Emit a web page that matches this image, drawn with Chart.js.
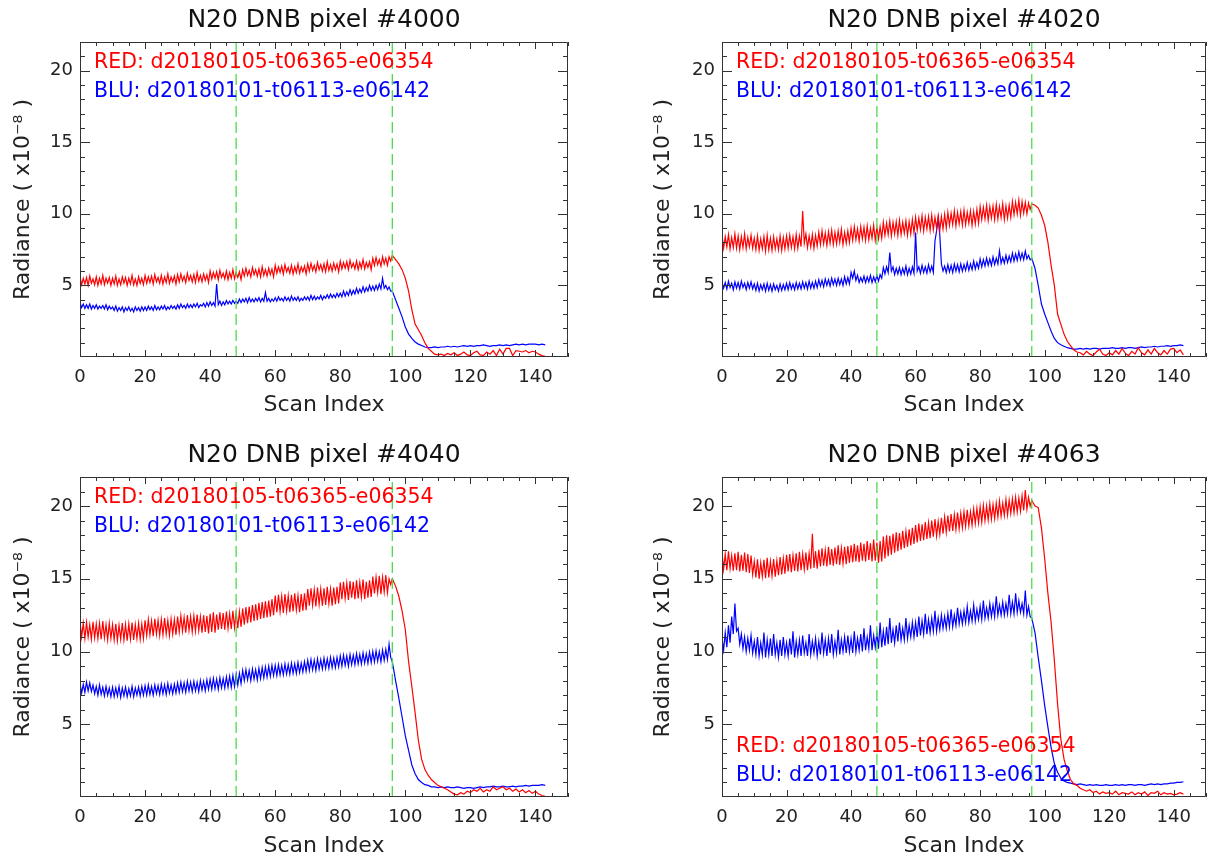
<!DOCTYPE html>
<html>
<head>
<meta charset="utf-8">
<script src="https://cdn.jsdelivr.net/npm/chart.js@4.4.1/dist/chart.umd.min.js"></script>
<style>
  html, body { margin: 0; padding: 0; background: #fff; overflow: hidden; }
  body { width: 1208px; height: 854px; position: relative; }
  canvas { position: absolute; }
</style>
</head>
<body>
<canvas id="c4000" width="604" height="440" style="left:0;top:0"></canvas>
<canvas id="c4020" width="568" height="440" style="left:640px;top:0"></canvas>
<canvas id="c4040" width="604" height="440" style="left:0;top:427px"></canvas>
<canvas id="c4063" width="568" height="440" style="left:640px;top:427px"></canvas>
<script>
// axis ticks and marker lines
const xTicks = [0, 20, 40, 60, 80, 100, 120, 140];
const yTicks = [5, 10, 15, 20];
const markers = [48, 96];

const redLabel = 'RED: d20180105-t06365-e06354';
const bluLabel = 'BLU: d20180101-t06113-e06142';

// radiance (x1e-8) at scan index 0..143
// (before the drop these follow the top of the noisy band)
const red4000 = [
  5.6,5.5,5.55,5.65,5.45,5.6,5.5,5.7,5.5,5.55,
  5.5,5.65,5.45,5.6,5.55,5.5,5.7,5.45,5.6,5.5,
  5.7,5.6,5.65,5.75,5.55,5.7,5.6,5.8,5.6,5.65,
  5.75,5.8,5.65,5.85,5.7,5.75,5.9,5.7,5.8,5.75,
  6.0,5.9,5.95,6.05,5.85,6.0,5.9,6.1,5.9,5.95,
  6.1,6.2,6.05,6.25,6.1,6.15,6.3,6.1,6.2,6.15,
  6.4,6.3,6.35,6.45,6.25,6.4,6.3,6.5,6.3,6.35,
  6.5,6.55,6.4,6.6,6.45,6.5,6.65,6.45,6.55,6.5,
  6.7,6.6,6.65,6.75,6.55,6.7,6.6,6.8,6.6,6.65,
  6.9,6.95,6.8,7.0,6.9,7.0,7.1,6.8,6.5,6.1,
  5.5,4.6,3.3,2.3,1.9,1.5,1.0,0.6,0.4,0.2,
  0.15,0.2,0.1,0.25,0.15,0.3,0.1,0.2,0.35,0.15,
  0.1,0.3,0.4,0.15,0.1,0.35,0.2,0.45,0.1,0.55,
  0.2,0.6,0.6,0.1,0.45,0.4,0.35,0.45,0.3,0.4,
  0.35,0.2,0.1,0.05
];
// half-scan samples (index + 0.5) before the drop: bottom of the band
const red4000Mid = [
  5.05,5.1,5.0,5.15,5.05,5.0,5.1,5.05,5.15,5.0,
  5.1,5.0,5.05,5.15,5.0,5.1,5.05,5.0,5.15,5.05,
  5.15,5.2,5.1,5.25,5.15,5.1,5.2,5.15,5.25,5.1,
  5.25,5.3,5.2,5.35,5.25,5.2,5.3,5.25,5.35,5.2,
  5.45,5.5,5.4,5.55,5.45,5.4,5.5,5.45,5.55,5.4,
  5.65,5.7,5.6,5.75,5.65,5.6,5.7,5.65,5.75,5.6,
  5.85,5.9,5.8,5.95,5.85,5.8,5.9,5.85,5.95,5.8,
  6.0,6.05,5.95,6.1,6.0,5.95,6.05,6.0,6.1,5.95,
  6.15,6.2,6.1,6.25,6.15,6.1,6.2,6.15,6.25,6.1,
  6.4,6.45,6.35,6.5,6.4,6.7
];
const blu4000 = [
  3.8,3.7,3.65,3.7,3.6,3.65,3.55,3.6,3.65,3.55,
  3.5,3.55,3.45,3.5,3.45,3.5,3.4,3.5,3.45,3.5,
  3.5,3.55,3.5,3.6,3.5,3.55,3.6,3.5,3.6,3.55,
  3.65,3.7,3.6,3.7,3.65,3.7,3.75,3.65,3.75,3.8,
  3.85,3.8,5.1,3.9,3.85,3.95,3.9,3.95,3.9,4.05,
  4.05,4.1,4.15,4.05,4.1,4.15,4.1,4.5,4.1,4.05,
  4.15,4.2,4.1,4.2,4.15,4.25,4.15,4.2,4.1,4.2,
  4.2,4.3,4.25,4.2,4.3,4.25,4.35,4.4,4.35,4.45,
  4.45,4.6,4.55,4.7,4.65,4.8,4.75,4.9,4.85,5.0,
  4.95,5.0,5.1,5.5,5.0,4.9,4.6,4.0,3.4,2.8,
  2.1,1.6,1.3,1.05,0.9,0.8,0.7,0.65,0.65,0.7,
  0.65,0.7,0.7,0.75,0.7,0.75,0.7,0.75,0.8,0.75,
  0.8,0.75,0.8,0.8,0.85,0.8,0.75,0.8,0.8,0.85,
  0.8,0.85,0.8,0.85,0.9,0.85,0.9,0.85,0.9,0.9,
  0.9,0.85,0.9,0.85
];
const blu4000Mid = [
  3.45,3.4,3.4,3.35,3.4,3.35,3.4,3.35,3.3,3.35,
  3.25,3.2,3.25,3.15,3.25,3.2,3.15,3.25,3.2,3.25,
  3.25,3.3,3.25,3.3,3.3,3.35,3.3,3.35,3.4,3.35,
  3.4,3.45,3.4,3.45,3.45,3.5,3.45,3.55,3.5,3.55,
  3.6,3.55,3.65,3.6,3.65,3.7,3.7,3.75,3.75,3.8,
  3.85,3.8,3.85,3.85,3.9,3.85,3.9,3.9,3.85,3.9,
  3.9,3.95,3.9,3.95,3.9,3.95,3.95,3.9,3.95,4.0,
  3.95,4.0,4.0,4.05,4.0,4.1,4.1,4.15,4.15,4.2,
  4.2,4.25,4.3,4.35,4.4,4.45,4.5,4.55,4.6,4.65,
  4.65,4.7,4.75,4.8,4.7,4.6
];
const red4020 = [
  8.5,8.4,8.55,8.35,8.6,8.45,8.4,8.6,8.35,8.5,
  8.3,8.45,8.25,8.4,8.5,8.3,8.4,8.25,8.45,8.35,
  8.45,8.5,8.4,8.55,8.45,10.2,8.6,8.45,8.55,8.5,
  8.7,8.8,8.65,8.75,8.85,8.7,8.8,8.9,8.7,8.8,
  9.0,9.1,8.95,9.1,9.05,9.15,9.0,9.2,9.05,9.1,
  9.4,9.35,9.5,9.4,9.45,9.55,9.4,9.5,9.45,9.6,
  9.75,9.7,9.85,9.75,9.8,9.9,9.75,9.85,9.8,9.95,
  10.1,10.05,10.2,10.1,10.15,10.25,10.1,10.2,10.15,10.3,
  10.5,10.45,10.6,10.5,10.55,10.65,10.5,10.7,10.55,10.6,
  10.85,10.8,10.95,10.85,10.8,10.75,10.7,10.6,10.4,9.9,
  9.2,8.0,6.4,5.0,3.0,2.3,1.6,1.1,0.8,0.5,
  0.35,0.3,0.15,0.4,0.2,0.1,0.35,0.55,0.2,0.1,
  0.3,0.15,0.45,0.2,0.6,0.25,0.1,0.4,0.2,0.65,
  0.3,0.15,0.5,0.2,0.6,0.3,0.15,0.45,0.2,0.55,
  0.6,0.3,0.5,0.15
];
const red4020Mid = [
  7.6,7.7,7.55,7.65,7.6,7.5,7.65,7.55,7.7,7.6,
  7.5,7.45,7.55,7.4,7.5,7.45,7.55,7.5,7.45,7.55,
  7.6,7.65,7.55,7.6,7.7,7.95,7.65,7.7,7.6,7.75,
  7.85,7.9,7.8,7.95,7.85,7.9,8.0,7.85,7.95,8.0,
  8.15,8.2,8.1,8.25,8.15,8.2,8.3,8.15,8.25,8.3,
  8.5,8.55,8.45,8.6,8.5,8.55,8.65,8.5,8.6,8.65,
  8.85,8.9,8.8,8.95,8.85,8.9,9.0,8.85,8.95,9.0,
  9.2,9.25,9.15,9.3,9.2,9.25,9.35,9.2,9.3,9.35,
  9.6,9.65,9.55,9.7,9.6,9.65,9.75,9.6,9.7,9.75,
  9.95,10.0,9.9,10.05,10.0,10.3
];
const blu4020 = [
  5.25,5.2,5.3,5.15,5.25,5.2,5.3,5.15,5.2,5.25,
  5.1,5.15,5.05,5.1,5.15,5.05,5.1,5.0,5.1,5.05,
  5.15,5.2,5.1,5.2,5.15,5.25,5.2,5.3,5.2,5.3,
  5.4,5.35,5.45,5.4,5.5,5.45,5.5,5.45,5.6,5.55,
  5.9,6.0,5.7,5.55,5.65,5.6,5.7,5.6,5.7,5.75,
  6.25,6.3,7.3,6.3,6.2,6.25,6.2,6.35,6.2,6.3,
  8.7,6.3,6.4,6.3,6.45,6.35,8.1,9.7,6.5,6.35,
  6.45,6.4,6.5,6.45,6.5,6.45,6.6,6.5,6.7,6.6,
  6.85,6.8,6.9,6.85,7.0,6.9,7.4,6.95,7.1,7.05,
  7.25,7.2,7.35,7.25,7.4,7.1,6.9,6.2,5.0,3.7,
  3.0,2.4,1.8,1.3,1.0,0.85,0.75,0.65,0.6,0.55,
  0.55,0.6,0.55,0.6,0.55,0.6,0.6,0.55,0.6,0.6,
  0.6,0.65,0.6,0.6,0.65,0.6,0.65,0.65,0.6,0.65,
  0.7,0.65,0.7,0.7,0.75,0.7,0.75,0.75,0.8,0.75,
  0.8,0.8,0.85,0.8
];
const blu4020Mid = [
  4.8,4.75,4.85,4.7,4.8,4.75,4.85,4.7,4.8,4.75,
  4.65,4.6,4.7,4.6,4.65,4.6,4.7,4.6,4.65,4.7,
  4.7,4.75,4.7,4.75,4.75,4.8,4.75,4.8,4.8,4.85,
  4.95,4.9,5.0,4.95,5.05,5.0,5.05,5.0,5.1,5.1,
  5.5,5.35,5.2,5.25,5.2,5.25,5.2,5.25,5.3,5.5,
  5.8,5.9,6.0,5.75,5.8,5.75,5.8,5.75,5.8,5.85,
  6.0,5.85,5.9,5.85,5.95,5.9,8.8,8.5,6.0,5.9,
  5.95,5.9,6.0,5.95,6.0,6.05,6.05,6.1,6.15,6.2,
  6.3,6.35,6.4,6.4,6.45,6.5,6.55,6.55,6.6,6.65,
  6.7,6.75,6.8,6.8,6.85,6.8
];
const red4040 = [
  12.1,11.95,12.0,11.85,12.05,11.9,11.95,12.1,11.85,11.95,
  11.85,11.9,11.8,11.95,11.85,11.9,12.0,11.85,11.95,11.9,
  12.15,12.2,12.1,12.25,12.15,12.2,12.3,12.15,12.25,12.2,
  12.4,12.45,12.35,12.5,12.4,12.45,12.55,12.4,12.5,12.45,
  12.6,12.7,12.55,12.7,12.65,12.75,12.6,12.8,12.7,12.75,
  12.95,13.05,13.1,13.2,13.25,13.35,13.4,13.45,13.5,13.6,
  13.85,13.9,13.8,13.95,13.85,13.9,14.0,13.85,13.95,14.0,
  14.3,14.35,14.25,14.4,14.3,14.35,14.45,14.3,14.4,14.45,
  14.75,14.8,14.7,14.85,14.8,14.9,14.75,14.95,14.8,14.9,
  15.15,15.1,15.2,15.1,15.25,15.0,15.0,14.5,13.8,12.8,
  11.5,9.3,7.6,5.8,3.9,2.6,1.9,1.5,1.2,1.0,
  0.8,0.7,0.6,0.5,0.35,0.2,0.15,0.3,0.2,0.4,
  0.3,0.5,0.4,0.6,0.35,0.5,0.4,0.7,0.5,0.6,
  0.7,0.5,0.6,0.4,0.55,0.35,0.5,0.3,0.45,0.25,
  0.4,0.2,0.1,0.05
];
const red4040Mid = [
  11.0,10.9,11.0,10.85,10.95,10.9,10.85,10.95,10.8,10.9,
  10.8,10.75,10.85,10.8,10.75,10.85,10.8,10.9,10.85,10.9,
  11.1,11.15,11.05,11.2,11.1,11.15,11.2,11.1,11.2,11.15,
  11.35,11.4,11.3,11.45,11.35,11.4,11.45,11.3,11.35,11.25,
  11.35,11.3,11.5,11.55,11.5,11.6,11.55,11.65,11.6,11.7,
  11.85,11.95,12.0,12.1,12.15,12.25,12.3,12.35,12.4,12.5,
  12.7,12.75,12.65,12.8,12.7,12.75,12.85,12.7,12.8,12.85,
  13.15,13.2,13.1,13.25,13.15,13.2,13.3,13.15,13.25,13.3,
  13.6,13.65,13.55,13.7,13.6,13.65,13.75,13.6,13.7,13.75,
  14.0,14.05,13.95,14.1,14.05,14.6
];
const blu4040 = [
  7.8,7.75,7.9,7.85,7.7,7.6,7.7,7.55,7.6,7.5,
  7.55,7.5,7.6,7.5,7.55,7.45,7.6,7.5,7.55,7.6,
  7.65,7.7,7.6,7.7,7.65,7.75,7.7,7.8,7.7,7.75,
  7.85,7.9,7.85,7.95,7.9,7.95,7.9,8.0,7.95,8.05,
  8.1,8.15,8.1,8.2,8.15,8.25,8.3,8.35,8.45,8.5,
  8.7,8.75,8.7,8.8,8.75,8.85,8.9,8.95,9.0,9.05,
  9.05,9.1,9.05,9.15,9.1,9.2,9.15,9.25,9.2,9.3,
  9.4,9.45,9.4,9.5,9.45,9.55,9.5,9.6,9.55,9.6,
  9.7,9.75,9.7,9.8,9.75,9.85,9.8,9.9,9.85,9.95,
  10.0,10.05,10.0,10.1,10.15,10.5,9.3,8.0,6.8,5.5,
  4.2,3.2,2.2,1.6,1.2,1.0,0.85,0.8,0.7,0.7,
  0.65,0.7,0.65,0.7,0.65,0.65,0.7,0.65,0.6,0.65,
  0.65,0.6,0.65,0.7,0.65,0.7,0.7,0.75,0.7,0.7,
  0.75,0.7,0.7,0.75,0.7,0.75,0.75,0.8,0.75,0.8,
  0.8,0.8,0.85,0.8
];
const blu4040Mid = [
  7.15,7.2,7.3,7.25,7.1,7.0,7.05,6.95,7.0,6.9,
  6.9,6.95,6.85,6.95,6.9,6.95,6.9,7.0,6.95,7.0,
  7.0,7.05,7.0,7.1,7.05,7.1,7.05,7.15,7.1,7.15,
  7.2,7.25,7.2,7.3,7.25,7.3,7.25,7.35,7.3,7.4,
  7.4,7.45,7.4,7.5,7.5,7.55,7.55,7.6,7.7,7.8,
  8.0,8.05,8.0,8.1,8.05,8.15,8.2,8.25,8.3,8.35,
  8.35,8.4,8.4,8.45,8.45,8.5,8.5,8.55,8.6,8.65,
  8.7,8.75,8.7,8.8,8.8,8.85,8.85,8.9,8.9,8.95,
  9.0,9.05,9.0,9.1,9.1,9.15,9.15,9.2,9.2,9.25,
  9.3,9.35,9.3,9.4,9.45,9.6
];
const red4063 = [
  16.8,16.7,16.9,16.6,16.75,16.85,16.65,16.8,16.7,16.6,
  16.2,16.35,16.1,16.3,16.45,16.2,16.35,16.25,16.5,16.4,
  16.65,16.7,16.6,16.75,16.85,16.7,16.8,16.75,18.1,16.9,
  17.0,17.1,16.95,17.2,17.05,17.15,17.3,17.1,17.2,17.25,
  17.3,17.4,17.3,17.5,17.4,17.6,17.45,17.7,17.5,17.6,
  17.9,18.0,17.95,18.1,18.2,18.15,18.3,18.25,18.4,18.5,
  18.7,18.8,18.75,18.9,18.85,19.0,19.1,18.95,19.2,19.25,
  19.35,19.45,19.4,19.55,19.5,19.6,19.75,19.6,19.8,19.85,
  19.95,20.05,20.0,20.15,20.1,20.2,20.35,20.2,20.45,20.4,
  20.5,20.6,20.55,20.7,21.1,20.6,20.4,20.0,19.9,18.5,
  16.4,14.0,12.0,9.4,6.4,4.0,2.6,1.8,1.2,0.9,
  0.8,0.6,0.5,0.4,0.5,0.3,0.4,0.2,0.35,0.25,
  0.3,0.2,0.4,0.15,0.3,0.25,0.2,0.35,0.15,0.3,
  0.2,0.35,0.1,0.3,0.25,0.4,0.15,0.3,0.2,0.25,
  0.15,0.2,0.3,0.2
];
const red4063Mid = [
  15.65,15.6,15.7,15.55,15.6,15.5,15.55,15.45,15.4,15.3,
  15.1,15.0,15.15,15.05,15.1,15.2,15.15,15.25,15.3,15.35,
  15.5,15.45,15.55,15.5,15.6,15.65,15.6,15.7,15.75,15.7,
  15.85,15.9,15.85,15.95,15.9,16.0,15.95,16.05,16.0,16.1,
  16.15,16.2,16.15,16.25,16.2,16.3,16.2,16.25,16.1,16.2,
  16.4,16.55,16.65,16.8,16.9,17.0,17.1,17.2,17.3,17.4,
  17.5,17.6,17.65,17.75,17.8,17.9,17.95,18.05,18.1,18.2,
  18.25,18.3,18.4,18.45,18.5,18.6,18.65,18.7,18.8,18.85,
  18.9,19.0,19.05,19.1,19.15,19.25,19.3,19.35,19.4,19.5,
  19.55,19.6,19.65,19.7,19.8,20.0
];
const blu4063 = [
  10.9,11.3,11.8,12.4,13.3,11.6,11.2,11.0,10.9,11.1,
  10.7,11.0,10.6,11.3,10.8,10.9,11.2,10.6,10.8,11.0,
  10.6,10.9,11.4,10.7,10.8,11.1,10.6,11.2,10.7,10.9,
  10.7,11.3,10.8,10.9,11.2,10.7,11.5,10.8,11.0,11.1,
  10.9,11.4,10.9,11.2,11.6,11.0,11.8,11.1,11.3,12.0,
  11.4,11.7,12.3,11.5,11.8,12.0,11.6,12.3,11.8,12.0,
  12.0,12.4,12.1,12.6,12.2,12.3,12.8,12.3,12.5,12.4,
  12.6,12.9,12.5,13.0,12.7,12.8,13.1,12.8,13.2,12.9,
  13.1,13.5,13.0,13.3,13.2,13.8,13.2,13.4,13.3,13.9,
  13.4,14.0,13.5,13.3,14.2,13.1,12.3,11.3,9.6,8.0,
  6.3,4.8,3.4,2.3,1.7,1.3,1.1,1.0,0.95,0.9,
  0.85,0.9,0.85,0.8,0.85,0.8,0.85,0.8,0.8,0.85,
  0.8,0.8,0.85,0.8,0.85,0.8,0.85,0.85,0.8,0.85,
  0.85,0.8,0.85,0.9,0.85,0.9,0.85,0.9,0.9,0.95,
  0.95,1.0,1.0,1.05
];
const blu4063Mid = [
  10.1,10.3,10.6,11.2,11.4,10.5,10.2,10.0,10.1,9.9,
  9.8,9.7,9.8,9.6,9.8,9.7,9.8,9.6,9.7,9.8,
  9.7,9.8,9.6,9.8,9.7,9.9,9.7,9.8,9.9,9.7,
  9.8,9.9,9.7,9.9,9.8,9.9,9.8,10.0,9.9,10.0,
  9.9,10.0,10.1,10.0,10.1,10.2,10.1,10.3,10.2,10.3,
  10.4,10.5,10.6,10.6,10.7,10.8,10.8,10.9,11.0,11.0,
  11.0,11.1,11.2,11.2,11.3,11.4,11.4,11.5,11.6,11.6,
  11.7,11.7,11.8,11.9,11.9,12.0,12.0,12.1,12.1,12.2,
  12.2,12.3,12.3,12.4,12.4,12.5,12.5,12.5,12.6,12.6,
  12.6,12.7,12.7,12.6,12.5,12.4
];

Chart.defaults.font.family = '"DejaVu Sans", sans-serif';
Chart.defaults.color = '#222';

const FONT = '"DejaVu Sans", sans-serif';

// IDL style frame: box all round, ticks pointing inwards
const frameTicks = {
  id: 'frameTicks',
  afterDatasetsDraw(chart) {
    const { ctx, chartArea: a, scales: { x, y } } = chart;
    ctx.save();
    ctx.strokeStyle = '#333';
    ctx.lineWidth = 1;
    ctx.beginPath();
    ctx.rect(Math.round(a.left) + 0.5, Math.round(a.top) + 0.5,
             Math.round(a.right - a.left) - 1, Math.round(a.bottom - a.top) - 1);
    for (let v = 0; v <= 150; v += 5) {
      const px = Math.round(x.getPixelForValue(v)) + 0.5;
      const len = xTicks.includes(v) ? 7 : 4;
      ctx.moveTo(px, a.bottom); ctx.lineTo(px, a.bottom - len);
      ctx.moveTo(px, a.top); ctx.lineTo(px, a.top + len);
    }
    for (let v = 1; v < 22; v++) {
      const py = Math.round(y.getPixelForValue(v)) + 0.5;
      const len = yTicks.includes(v) ? 10 : 5;
      ctx.moveTo(a.left, py); ctx.lineTo(a.left + len, py);
      ctx.moveTo(a.right, py); ctx.lineTo(a.right - len, py);
    }
    ctx.stroke();
    ctx.restore();
  }
};

// the two file names written inside the plot
const runLabels = {
  id: 'runLabels',
  afterDraw(chart, args, opts) {
    const { ctx, chartArea: a } = chart;
    ctx.save();
    ctx.font = '20.5px ' + FONT;
    ctx.textBaseline = 'middle';
    ctx.textAlign = 'left';
    const yRed = opts.bottom ? a.bottom - 50 : a.top + 21;
    ctx.fillStyle = '#ff0000';
    ctx.fillText(redLabel, a.left + 14, yRed);
    ctx.fillStyle = '#0000ff';
    ctx.fillText(bluLabel, a.left + 14, yRed + 29);
    ctx.restore();
  }
};

// whole-scan values plus the half-scan ones, in x order
function toPoints(main, mid) {
  const pts = [];
  main.forEach((v, i) => {
    pts.push({ x: i, y: v });
    if (i < mid.length) pts.push({ x: i + 0.5, y: mid[i] });
  });
  return pts;
}

function drawPanel(p) {
  const canvas = document.getElementById(p.id);
  const W = canvas.width, H = canvas.height;
  const xH = p.xTitleY + 13.2 - p.area.b;

  const datasets = markers.map(m => ({
    data: [{ x: m, y: 0 }, { x: m, y: 22 }],
    borderColor: '#4cdc4c',
    borderWidth: 1.3,
    borderDash: [11, 5],
    pointRadius: 0
  }));
  datasets.push({
    data: toPoints(p.red, p.redMid), borderColor: '#ff0000', borderWidth: 1.2, pointRadius: 0
  });
  datasets.push({
    data: toPoints(p.blu, p.bluMid), borderColor: '#0000ff', borderWidth: 1.2, pointRadius: 0
  });

  new Chart(canvas, {
    type: 'line',
    data: { datasets },
    options: {
      responsive: false,
      animation: false,
      devicePixelRatio: 1,
      events: [],
      layout: { padding: { left: 0, top: 0, right: W - p.area.r, bottom: H - p.area.b - xH } },
      plugins: {
        legend: { display: false },
        tooltip: { enabled: false },
        title: {
          display: true,
          text: p.title,
          fullSize: false,
          color: '#111',
          font: { size: 25, weight: 'normal', lineHeight: 1.2 },
          padding: { top: p.titleY - 15, bottom: p.area.t - p.titleY - 15 }
        },
        runLabels: { bottom: p.labelsBottom }
      },
      scales: {
        x: {
          type: 'linear', min: 0, max: 150,
          grid: { display: false, drawTicks: false },
          border: { display: false },
          afterBuildTicks: s => { s.ticks = xTicks.map(v => ({ value: v })); },
          afterFit: s => { s.height = xH; },
          ticks: { font: { size: 18 }, padding: 10, maxRotation: 0, color: '#222' },
          title: { display: true, text: 'Scan Index', font: { size: 22 }, padding: 0, color: '#222' }
        },
        y: {
          type: 'linear', min: 0, max: 22,
          grid: { display: false, drawTicks: false },
          border: { display: false },
          afterBuildTicks: s => { s.ticks = yTicks.map(v => ({ value: v })); },
          afterFit: s => { s.width = p.area.l; },
          ticks: { font: { size: 18 }, padding: 7, color: '#222' },
          title: { display: true, text: 'Radiance ( x10\u207B\u2078 )', font: { size: 22 }, padding: { top: 10, bottom: 0 }, color: '#222' }
        }
      }
    },
    plugins: [frameTicks, runLabels]
  });
}

drawPanel({ id: 'c4000', title: 'N20 DNB pixel #4000',
  red: red4000, redMid: red4000Mid, blu: blu4000, bluMid: blu4000Mid,
  area: { l: 80, t: 42, r: 568, b: 357 }, titleY: 20, xTitleY: 405, labelsBottom: false });
drawPanel({ id: 'c4020', title: 'N20 DNB pixel #4020',
  red: red4020, redMid: red4020Mid, blu: blu4020, bluMid: blu4020Mid,
  area: { l: 82, t: 42, r: 566, b: 357 }, titleY: 20, xTitleY: 405, labelsBottom: false });
drawPanel({ id: 'c4040', title: 'N20 DNB pixel #4040',
  red: red4040, redMid: red4040Mid, blu: blu4040, bluMid: blu4040Mid,
  area: { l: 80, t: 50, r: 568, b: 370 }, titleY: 28, xTitleY: 419, labelsBottom: false });
drawPanel({ id: 'c4063', title: 'N20 DNB pixel #4063',
  red: red4063, redMid: red4063Mid, blu: blu4063, bluMid: blu4063Mid,
  area: { l: 82, t: 50, r: 566, b: 370 }, titleY: 28, xTitleY: 419, labelsBottom: true });
</script>
</body>
</html>
